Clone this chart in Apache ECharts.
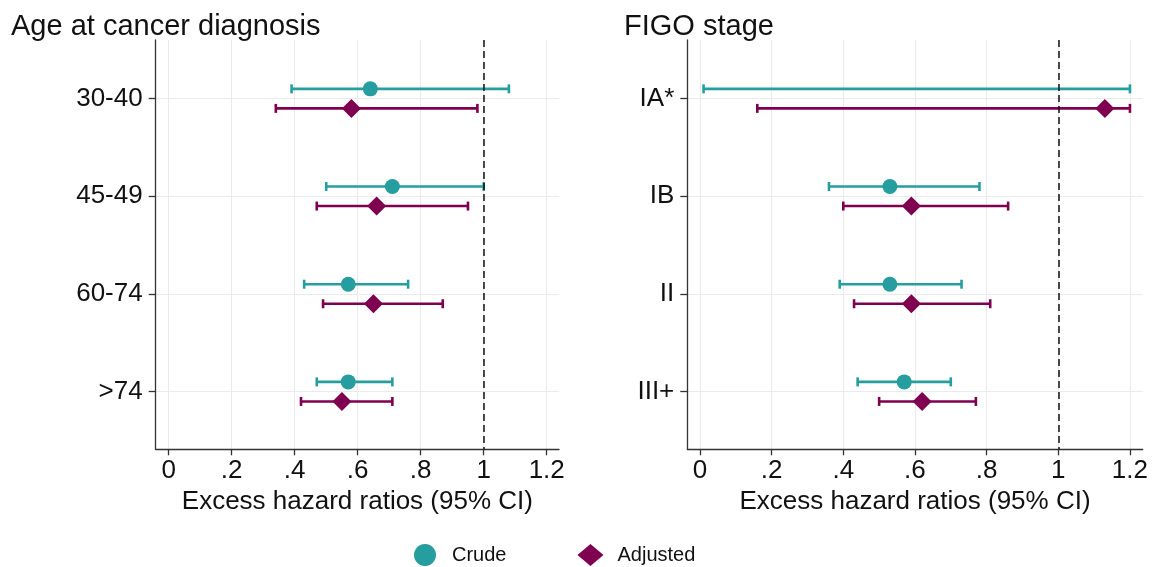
<!DOCTYPE html>
<html>
<head>
<meta charset="utf-8">
<script src="https://cdn.jsdelivr.net/npm/echarts@6/dist/echarts.min.js"></script>
<style>
  html, body { margin: 0; padding: 0; background: #fff; }
  #chart { width: 1156px; height: 567px; }
</style>
</head>
<body>
<div id="chart"></div>
<script>
// data
const ageGroups = ['30-40', '45-49', '60-74', '>74']
const ageCrude = [0.64, 0.71, 0.57, 0.57]
const ageCrudeLo = [0.39, 0.50, 0.43, 0.47]
const ageCrudeHi = [1.08, 1.00, 0.76, 0.71]
const ageAdj = [0.58, 0.66, 0.65, 0.55]
const ageAdjLo = [0.34, 0.47, 0.49, 0.42]
const ageAdjHi = [0.98, 0.95, 0.87, 0.71]

const stages = ['IA*', 'IB', 'II', 'III+']
const stageCrude = [null, 0.53, 0.53, 0.57]
const stageCrudeLo = [0.01, 0.36, 0.39, 0.44]
const stageCrudeHi = [1.20, 0.78, 0.73, 0.70]
const stageAdj = [1.13, 0.59, 0.59, 0.62]
const stageAdjLo = [0.16, 0.40, 0.43, 0.50]
const stageAdjHi = [1.20, 0.86, 0.81, 0.77]

const xTicks = [0, 0.2, 0.4, 0.6, 0.8, 1, 1.2]
const rowPos = [1, 2, 3, 4]

const TEAL = '#269d9f'
const MAROON = '#7f0050'
const FONT = 'Liberation Sans, Arial, sans-serif'

let myChart = echarts.init(document.getElementById('chart'))

// horizontal CI bar with end caps
function renderBar(params, api) {
    let y = api.value(2)
    let lo = api.coord([api.value(0), y])
    let hi = api.coord([api.value(1), y])
    let h = 4.5
    let style = { stroke: api.visual('color'), lineWidth: 2.6 }
    return {
        type: 'group',
        children: [
            { type: 'line', shape: { x1: lo[0], y1: lo[1], x2: hi[0], y2: hi[1] }, style: style },
            { type: 'line', shape: { x1: lo[0], y1: lo[1] - h, x2: lo[0], y2: lo[1] + h }, style: style },
            { type: 'line', shape: { x1: hi[0], y1: hi[1] - h, x2: hi[0], y2: hi[1] + h }, style: style }
        ]
    }
}

const barData = (lo, hi, off) => lo.map((v, i) => [v, hi[i], rowPos[i] + off])
const pointData = (vals, off) => vals.map((v, i) => v == null ? null : [v, rowPos[i] + off])
    .filter(d => d)

const fmtTick = v => {
    if (v === 0) return '0'
    let s = String(Math.round(v * 10) / 10)
    return s.startsWith('0.') ? s.slice(1) : s
}

function xAxisFor(idx, min, max) {
    return {
        type: 'value', gridIndex: idx, min: min, max: max,
        name: 'Excess hazard ratios (95% CI)', nameLocation: 'middle', nameGap: 35,
        nameTextStyle: { fontSize: 26, color: '#111', fontFamily: FONT },
        axisLine: { show: true, onZero: false, lineStyle: { color: '#333', width: 1.3 } },
        axisTick: { show: true, length: 6, customValues: xTicks, lineStyle: { color: '#333', width: 1.3 } },
        axisLabel: { customValues: xTicks, formatter: fmtTick, fontSize: 26, color: '#111', fontFamily: FONT, margin: 9 },
        splitLine: { show: true, lineStyle: { color: '#ebebeb', width: 1 } }
    }
}

function yAxisFor(idx, labels) {
    return {
        type: 'value', gridIndex: idx, min: 0.4, max: 4.59, inverse: true,
        axisLine: { show: true, onZero: false, lineStyle: { color: '#333', width: 1.3 } },
        axisTick: { show: true, length: 7, customValues: rowPos, lineStyle: { color: '#333', width: 1.3 } },
        axisLabel: { customValues: rowPos, formatter: v => labels[Math.round(v) - 1], fontSize: 26, color: '#111', fontFamily: FONT, margin: 13 },
        splitLine: { show: true, lineStyle: { color: '#ebebeb', width: 1 } }
    }
}

const refLine = {
    symbol: 'none', silent: true,
    label: { show: false },
    lineStyle: { type: [7, 4], color: '#111', width: 1.5 },
    data: [{ xAxis: 1 }]
}

const options = {
    animation: false,
    backgroundColor: '#fff',
    title: [
        { text: 'Age at cancer diagnosis', left: 11, top: 12, padding: 0,
          textStyle: { fontSize: 29, fontWeight: 'normal', color: '#111', fontFamily: FONT } },
        { text: 'FIGO stage', left: 624, top: 12, padding: 0,
          textStyle: { fontSize: 29, fontWeight: 'normal', color: '#111', fontFamily: FONT } }
    ],
    legend: {
        left: 409, top: 539,
        itemWidth: 26, itemHeight: 22, itemGap: 71,
        textStyle: { fontSize: 20, color: '#111', fontFamily: FONT, padding: [0, 0, 0, 9] },
        data: [{ name: 'Crude', icon: 'circle' }, { name: 'Adjusted', icon: 'diamond' }]
    },
    grid: [
        { left: 155.7, top: 40, width: 403.3, height: 409.3 },
        { left: 687.3, top: 40, width: 455.4, height: 409.3 }
    ],
    xAxis: [xAxisFor(0, -0.0413, 1.239), xAxisFor(1, -0.0354, 1.2356)],
    yAxis: [yAxisFor(0, ageGroups), yAxisFor(1, stages)],
    series: [
        { name: 'Crude', type: 'scatter', xAxisIndex: 0, yAxisIndex: 0, symbol: 'circle', symbolSize: 15,
          itemStyle: { color: TEAL, opacity: 1 }, data: pointData(ageCrude, -0.1), z: 5 },
        { name: 'Adjusted', type: 'scatter', xAxisIndex: 0, yAxisIndex: 0, symbol: 'diamond', symbolSize: 19,
          itemStyle: { color: MAROON, opacity: 1 }, data: pointData(ageAdj, 0.1), z: 5 },
        { name: 'Crude', type: 'scatter', xAxisIndex: 1, yAxisIndex: 1, symbol: 'circle', symbolSize: 15,
          itemStyle: { color: TEAL, opacity: 1 }, data: pointData(stageCrude, -0.1), z: 5 },
        { name: 'Adjusted', type: 'scatter', xAxisIndex: 1, yAxisIndex: 1, symbol: 'diamond', symbolSize: 19,
          itemStyle: { color: MAROON, opacity: 1 }, data: pointData(stageAdj, 0.1), z: 5 },
        { name: 'Crude', type: 'custom', xAxisIndex: 0, yAxisIndex: 0, renderItem: renderBar,
          itemStyle: { color: TEAL }, encode: { x: [0, 1], y: 2 }, data: barData(ageCrudeLo, ageCrudeHi, -0.1),
          markLine: refLine, z: 3 },
        { name: 'Adjusted', type: 'custom', xAxisIndex: 0, yAxisIndex: 0, renderItem: renderBar,
          itemStyle: { color: MAROON }, encode: { x: [0, 1], y: 2 }, data: barData(ageAdjLo, ageAdjHi, 0.1), z: 3 },
        { name: 'Crude', type: 'custom', xAxisIndex: 1, yAxisIndex: 1, renderItem: renderBar,
          itemStyle: { color: TEAL }, encode: { x: [0, 1], y: 2 }, data: barData(stageCrudeLo, stageCrudeHi, -0.1),
          markLine: refLine, z: 3 },
        { name: 'Adjusted', type: 'custom', xAxisIndex: 1, yAxisIndex: 1, renderItem: renderBar,
          itemStyle: { color: MAROON }, encode: { x: [0, 1], y: 2 }, data: barData(stageAdjLo, stageAdjHi, 0.1), z: 3 }
    ]
}
myChart.setOption(options)
</script>
</body>
</html>
